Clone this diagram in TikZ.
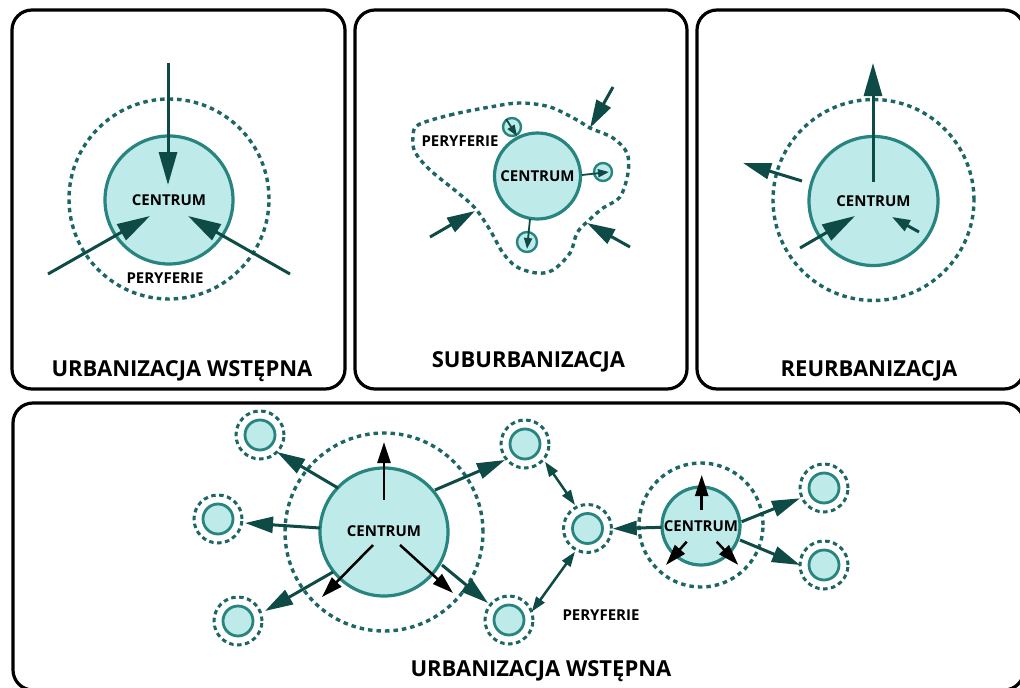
\documentclass[tikz,border=0pt]{standalone}
\usepackage{fontspec}
\setmainfont{Open Sans}
\usetikzlibrary{arrows.meta}
\definecolor{cfill}{HTML}{BEEBEA}
\definecolor{cline}{HTML}{27847F}
\definecolor{cdot}{HTML}{1D6664}
\definecolor{carrow}{HTML}{0E4A46}
\tikzset{
  panel/.style={draw=black, line width=3.2pt, rounded corners=20pt},
  core/.style={circle, draw=cline, fill=cfill, line width=3.2pt, inner sep=0pt, text=black, font=\bfseries\fontsize{15}{16}\selectfont},
  ring/.style={circle, draw=cdot, line width=3.4pt, dash pattern=on 4.5pt off 4pt, inner sep=0pt},
  sat/.style={circle, draw=cline, fill=cfill, line width=2.8pt, inner sep=0pt, minimum size=30pt},
  satring/.style={circle, draw=cdot, line width=3pt, dash pattern=on 4.5pt off 3.5pt, inner sep=0pt, minimum size=48pt},
  smallsat/.style={circle, draw=cline, fill=cfill, line width=2.4pt, inner sep=0pt},
  bigarr/.style={draw=carrow, line width=3pt, -{Triangle[length=33pt,width=18pt]}},
  midarr/.style={draw=carrow, line width=3pt, -{Triangle[length=28pt,width=16pt]}},
  tinyarr/.style={draw=carrow, line width=1.8pt, -{Triangle[length=11pt,width=8pt]}},
  blkarr/.style={draw=black, line width=2.5pt, -{Triangle[length=21pt,width=13pt]}},
  dblarr/.style={draw=carrow, line width=2.5pt, {Triangle[length=15pt,width=10pt]}-{Triangle[length=15pt,width=10pt]}},
  lbl/.style={text=black, font=\bfseries\fontsize{15}{16}\selectfont, inner sep=0pt},
  ttl/.style={text=black, font=\bfseries\fontsize{22}{26}\selectfont, inner sep=0pt, anchor=base},
}
\begin{document}
\begin{tikzpicture}[x=1pt,y=-1pt]
\clip (0,0) rectangle (1020,688);
\fill[white] (0,0) rectangle (1020,688);

% panels
\draw[panel] (12,10) rectangle (345,389);
\draw[panel] (355,10) rectangle (687,389);
\draw[panel] (697,10) rectangle (1024,389);
\draw[panel] (13,403) rectangle (1024,690);

% ---------- panel 1 ----------
\node[ring, minimum size=200pt] (p1r) at (169,199) {};
\node[core, minimum size=128pt] (p1c) at (169,200) {CENTRUM};
\node[lbl] (p1p) at (165,278) {PERYFERIE};
\coordinate (a1s) at (168,63);  \coordinate (a1e) at (168,185);
\coordinate (a2s) at (48,274);  \coordinate (a2e) at (150,216);
\coordinate (a3s) at (290,274); \coordinate (a3e) at (188,216);
\draw[bigarr] (a1s) -- (a1e);
\draw[bigarr] (a2s) -- (a2e);
\draw[bigarr] (a3s) -- (a3e);
\node[ttl] (t1) at (182,376) {URBANIZACJA WSTĘPNA};

% ---------- panel 2 ----------
\draw[draw=cdot, line width=3.4pt, dash pattern=on 4.5pt off 4pt]
  plot[smooth cycle, tension=0.55] coordinates {
  (418,125) (450,115) (490,107) (520,103) (550,107) (577,120) (590,128)
  (613,138) (627,153) (628,173) (620,197) (603,208) (587,222) (577,233)
  (570,253) (553,270) (537,273) (517,267) (503,253) (490,230) (475,208)
  (457,192) (430,170) (415,152) (413,137)};
\node[core, minimum size=86pt] (p2c) at (537.5,176) {CENTRUM};
\node[smallsat, minimum size=18pt] (s2a) at (512,127) {};
\node[smallsat, minimum size=18pt] (s2b) at (603,172) {};
\node[smallsat, minimum size=20pt] (s2c) at (527,242) {};
\node[lbl] (p2p) at (460,141) {PERYFERIE};
\coordinate (b0s) at (506,119); \coordinate (b0e) at (517,136);
\coordinate (b4s) at (582,175); \coordinate (b4e) at (609,172);
\coordinate (b5s) at (530,219); \coordinate (b5e) at (527,249);
\draw[tinyarr] (b0s) -- (b0e);
\draw[tinyarr] (b4s) -- (b4e);
\draw[tinyarr] (b5s) -- (b5e);
\coordinate (b1s) at (613,87);  \coordinate (b1e) at (590,128);
\coordinate (b2s) at (430,237); \coordinate (b2e) at (475,211);
\coordinate (b3s) at (630,247); \coordinate (b3e) at (587,223);
\draw[midarr] (b1s) -- (b1e);
\draw[midarr] (b2s) -- (b2e);
\draw[midarr] (b3s) -- (b3e);
\node[ttl] (t2) at (528.5,367) {SUBURBANIZACJA};

% ---------- panel 3 ----------
\node[ring, minimum size=201pt] (p3r) at (873.5,200) {};
\node[core, minimum size=129pt] (p3c) at (873.5,201) {CENTRUM};
\coordinate (c1s) at (873,182); \coordinate (c1e) at (873,63);
\coordinate (c2s) at (802,181); \coordinate (c2e) at (743,163);
\coordinate (c3s) at (800,248); \coordinate (c3e) at (855,216);
\coordinate (c4s) at (919,232); \coordinate (c4e) at (892,217);
\draw[bigarr] (c1s) -- (c1e);
\draw[midarr] (c2s) -- (c2e);
\draw[bigarr] (c3s) -- (c3e);
\draw[draw=carrow, line width=3pt, -{Triangle[length=18pt,width=12pt]}] (c4s) -- (c4e);
\node[ttl] (t3) at (869,376) {REURBANIZACJA};

% ---------- bottom panel ----------
\node[ring, minimum size=198pt] (qr) at (384,532) {};
\node[core, minimum size=128pt] (qc) at (384,532) {};
\node[ring, minimum size=124pt] (rr) at (701,525) {};
\node[core, minimum size=78pt] (rc) at (701,526) {};
\foreach \n/\x/\y in {tl/260/435, l/218/519, bl/238/621, tr/525/444, m/587.5/528.5, br/509/620, ra/824/488, rb/824/565}{
  \node[satring] (\n o) at (\x,\y) {};
  \node[sat] (\n) at (\x,\y) {};
}
\node[lbl] (qct) at (384,531) {CENTRUM};
\node[lbl] (rct) at (701,526) {CENTRUM};
\node[lbl] (qp) at (601,615) {PERYFERIE};

\coordinate (d1s) at (338,488); \coordinate (d1e) at (277,452);
\coordinate (d2s) at (320,528); \coordinate (d2e) at (245,523);
\coordinate (d3s) at (333,572); \coordinate (d3e) at (265,611);
\coordinate (d4s) at (442,565); \coordinate (d4e) at (488,603);
\coordinate (d5s) at (435,490); \coordinate (d5e) at (505,460);
\draw[midarr] (d1s) -- (d1e);
\draw[midarr] (d2s) -- (d2e);
\draw[midarr] (d3s) -- (d3e);
\draw[midarr] (d4s) -- (d4e);
\draw[midarr] (d5s) -- (d5e);
\coordinate (k1s) at (384,500); \coordinate (k1e) at (384,442);
\coordinate (k2s) at (373,545); \coordinate (k2e) at (322,597);
\coordinate (k3s) at (400,545); \coordinate (k3e) at (453,593);
\draw[blkarr] (k1s) -- (k1e);
\draw[blkarr] (k2s) -- (k2e);
\draw[blkarr] (k3s) -- (k3e);

\coordinate (e1s) at (661.7,527.3); \coordinate (e1e) at (612.7,528.7);
\coordinate (e2s) at (741.7,521.7); \coordinate (e2e) at (800,498.3);
\coordinate (e3s) at (740,540);     \coordinate (e3e) at (800,565);
\draw[draw=carrow, line width=3pt, -{Triangle[length=24pt,width=14pt]}] (e1s) -- (e1e);
\draw[midarr] (e2s) -- (e2e);
\draw[midarr] (e3s) -- (e3e);
\coordinate (k4s) at (701.7,510);   \coordinate (k4e) at (701.7,475);
\coordinate (k5s) at (686.7,541.7); \coordinate (k5e) at (666,565);
\coordinate (k6s) at (716.7,541.7); \coordinate (k6e) at (738.3,565);
\draw[blkarr] (k4s) -- (k4e);
\draw[blkarr] (k5s) -- (k5e);
\draw[blkarr] (k6s) -- (k6e);

\coordinate (g1s) at (545,461.7);   \coordinate (g1e) at (575,505);
\coordinate (g2s) at (575,551.7);   \coordinate (g2e) at (531.7,611.7);
\draw[dblarr] (g1s) -- (g1e);
\draw[dblarr] (g2s) -- (g2e);

\node[ttl] (t4) at (541,676) {URBANIZACJA WSTĘPNA};
\end{tikzpicture}
\end{document}
